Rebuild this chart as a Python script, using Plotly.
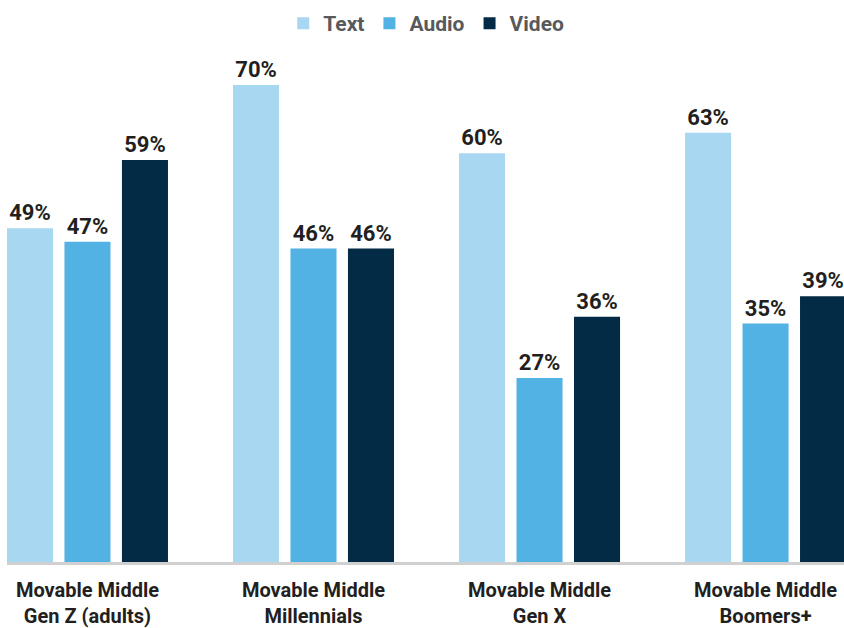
import plotly.graph_objects as go

categories = ["Movable Middle<br>Gen Z (adults)", "Movable Middle<br>Millennials",
              "Movable Middle<br>Gen X", "Movable Middle<br>Boomers+"]
series_names = ["Text", "Audio", "Video"]
text_vals = [49, 70, 60, 63]
audio_vals = [47, 46, 27, 35]
video_vals = [59, 46, 36, 39]
colors = ["#a8d8f1", "#52b2e4", "#032b46"]

FONT = "Roboto, Arial"

fig = go.Figure()
for name, vals, col in zip(series_names, [text_vals, audio_vals, video_vals], colors):
    fig.add_trace(go.Bar(
        name=name, x=categories, y=vals, marker_color=col, marker_line_width=0,
        text=[f"{v}%" for v in vals], textposition="outside", cliponaxis=False,
        textfont=dict(family=FONT, size=22, color="#231f20", weight="bold"),
    ))

fig.update_layout(
    width=844, height=628,
    margin=dict(l=0, r=0, t=51, b=64),
    paper_bgcolor="white", plot_bgcolor="white",
    barmode="group", bargap=0.237, bargroupgap=0.199,
    font=dict(family=FONT),
    legend=dict(orientation="h", x=0.505, xanchor="center", y=0.995, yanchor="top",
                yref="container", font=dict(family=FONT, size=21, color="#58595b", weight="bold"),
                itemwidth=30, traceorder="normal"),
    showlegend=True,
)
fig.update_xaxes(domain=[7/844, 1], range=[-0.356, 3.347], showline=True, linecolor="#d0d0d0",
                 linewidth=3, ticks="", showgrid=False, ticklabelstandoff=8,
                 tickfont=dict(family=FONT, size=20, color="#231f20", weight="bold"))
fig.update_yaxes(range=[0, 75], visible=False, showgrid=False)

fig.write_html("out.html")
